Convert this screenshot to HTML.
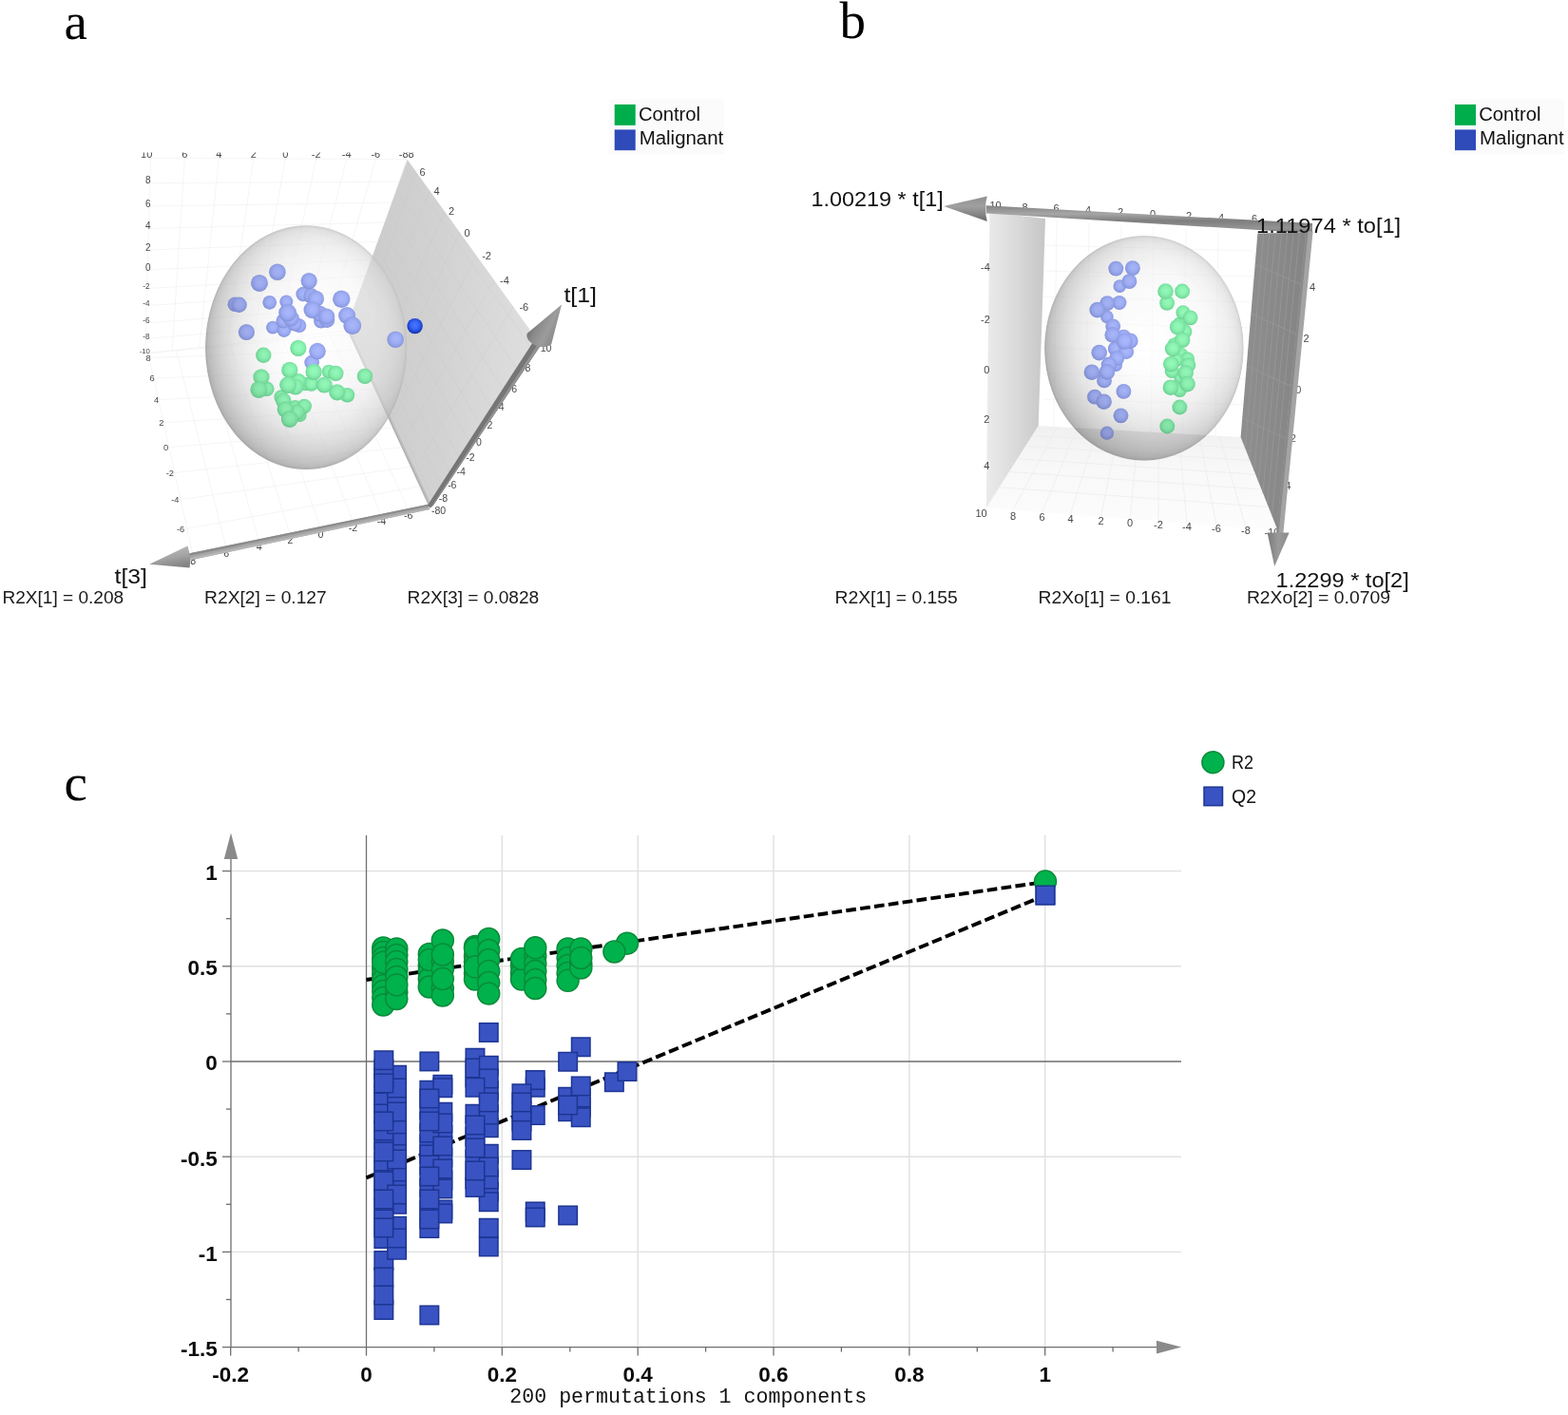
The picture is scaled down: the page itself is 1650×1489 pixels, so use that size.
<!DOCTYPE html>
<html lang="en"><head><meta charset="utf-8"><title>Figure: PCA, OPLS-DA score plots and permutation test</title>
<style>
html,body{margin:0;padding:0;background:#fff;}
body{width:1650px;height:1489px;overflow:hidden;font-family:"Liberation Sans",sans-serif;}
svg{display:block;}
</style></head>
<body>
<svg width="1650" height="1489" viewBox="0 0 1650 1489">
<rect width="1650" height="1489" fill="#fff"/>
<g font-family="'Liberation Serif','DejaVu Serif',serif" font-size="55px" fill="#000">
<text x="67.6" y="40.6">a</text><text x="883.6" y="40.2">b</text><text x="67.6" y="842.2">c</text></g>
<!-- panel a -->

<defs>
<radialGradient id="gBlue" cx="0.52" cy="0.46" r="0.54">
 <stop offset="0" stop-color="#acbaff"/><stop offset="0.5" stop-color="#a3b2f9"/><stop offset="0.82" stop-color="#93a2ea"/><stop offset="1" stop-color="#8392da"/>
</radialGradient>
<radialGradient id="gGreen" cx="0.52" cy="0.46" r="0.54">
 <stop offset="0" stop-color="#97fdbd"/><stop offset="0.5" stop-color="#8df5b3"/><stop offset="0.82" stop-color="#7ae4a3"/><stop offset="1" stop-color="#68d290"/>
</radialGradient>
<radialGradient id="gDark" cx="0.5" cy="0.44" r="0.55">
 <stop offset="0" stop-color="#4a78ff"/><stop offset="0.5" stop-color="#3463f5"/><stop offset="0.85" stop-color="#1c3fc8"/><stop offset="1" stop-color="#13309c"/>
</radialGradient>
<radialGradient id="gSphere" cx="0.5" cy="0.5" r="0.5">
 <stop offset="0" stop-color="#ffffff" stop-opacity="0.5"/>
 <stop offset="0.5" stop-color="#ffffff" stop-opacity="0.5"/>
 <stop offset="0.69" stop-color="#fafafa" stop-opacity="0.55"/>
 <stop offset="0.84" stop-color="#ececec" stop-opacity="0.58"/>
 <stop offset="0.92" stop-color="#e0e0e0" stop-opacity="0.6"/>
 <stop offset="0.97" stop-color="#d4d4d4" stop-opacity="0.65"/>
 <stop offset="0.992" stop-color="#c2c2c2" stop-opacity="0.75"/>
 <stop offset="1" stop-color="#c2c2c2" stop-opacity="0"/>
</radialGradient>
<linearGradient id="gSphereSh" x1="0.85" y1="0.15" x2="0.15" y2="0.85">
 <stop offset="0" stop-color="#000" stop-opacity="0"/>
 <stop offset="0.15" stop-color="#000" stop-opacity="0.02"/>
 <stop offset="0.5" stop-color="#000" stop-opacity="0.10"/>
 <stop offset="0.7" stop-color="#000" stop-opacity="0.15"/>
 <stop offset="0.857" stop-color="#000" stop-opacity="0.19"/>
 <stop offset="1" stop-color="#000" stop-opacity="0.21"/>
</linearGradient>
<radialGradient id="gRim" cx="0.5" cy="0.5" r="0.5">
 <stop offset="0" stop-color="#fff" stop-opacity="0"/>
 <stop offset="0.2" stop-color="#fff" stop-opacity="0.05"/>
 <stop offset="0.4" stop-color="#fff" stop-opacity="0.2"/>
 <stop offset="0.55" stop-color="#fff" stop-opacity="0.36"/>
 <stop offset="0.667" stop-color="#fff" stop-opacity="0.5"/>
 <stop offset="0.78" stop-color="#fff" stop-opacity="0.66"/>
 <stop offset="0.9" stop-color="#fff" stop-opacity="0.85"/>
 <stop offset="1" stop-color="#fff" stop-opacity="1"/>
</radialGradient>
<mask id="mRimA" maskUnits="userSpaceOnUse" x="200" y="220" width="250" height="290"><ellipse cx="322.1" cy="365.7" rx="106.0" ry="128.4" fill="url(#gRim)"/></mask>
<mask id="mRimB" maskUnits="userSpaceOnUse" x="1080" y="230" width="250" height="270"><ellipse cx="1203.8" cy="366.4" rx="104.6" ry="118.2" fill="url(#gRim)"/></mask>
<linearGradient id="gPlaneA" x1="365" y1="345" x2="558" y2="348" gradientUnits="userSpaceOnUse">
 <stop offset="0" stop-color="#cacaca"/><stop offset="0.5" stop-color="#d2d2d2"/><stop offset="1" stop-color="#dedede"/>
</linearGradient>
<linearGradient id="gCylA1" x1="0" y1="0" x2="1" y2="0.6" gradientUnits="objectBoundingBox">
 <stop offset="0" stop-color="#7c7c7c"/><stop offset="1" stop-color="#a8a8a8"/>
</linearGradient>
<linearGradient id="gCone3" x1="180" y1="576" x2="184" y2="597" gradientUnits="userSpaceOnUse">
 <stop offset="0" stop-color="#b9b9b9"/><stop offset="0.45" stop-color="#a6a6a6"/><stop offset="1" stop-color="#838383"/>
</linearGradient>
<linearGradient id="gCone1" x1="558" y1="342" x2="586" y2="356" gradientUnits="userSpaceOnUse">
 <stop offset="0" stop-color="#6f6f6f"/><stop offset="0.25" stop-color="#8a8a8a"/><stop offset="0.6" stop-color="#9c9c9c"/><stop offset="1" stop-color="#858585"/>
</linearGradient>
<filter id="soft" x="-5%" y="-5%" width="110%" height="110%"><feGaussianBlur stdDeviation="0.5"/></filter>
<filter id="softB" x="-5%" y="-5%" width="110%" height="110%"><feGaussianBlur stdDeviation="0.75"/></filter>
<filter id="soft3" x="-5%" y="-5%" width="110%" height="110%"><feGaussianBlur stdDeviation="0.35"/></filter>
<filter id="soft2" x="-5%" y="-5%" width="110%" height="110%"><feGaussianBlur stdDeviation="0.45"/></filter>
</defs>

<g filter="url(#soft)">
<g stroke="#f1f1f1" stroke-width="0.7" fill="none"><line x1="158.7" y1="166.2" x2="152.5" y2="372.0"/><line x1="194.4" y1="166.4" x2="181.1" y2="369.2"/><line x1="230.3" y1="166.6" x2="209.8" y2="366.5"/><line x1="266.7" y1="166.8" x2="238.9" y2="363.8"/><line x1="300.3" y1="166.9" x2="265.8" y2="361.0"/><line x1="332.7" y1="167.1" x2="291.7" y2="358.2"/><line x1="364.7" y1="167.3" x2="317.3" y2="355.5"/><line x1="395.3" y1="167.5" x2="341.8" y2="352.8"/><line x1="427.7" y1="167.7" x2="367.7" y2="350.0"/><line x1="158.7" y1="166.2" x2="427.7" y2="167.7"/><line x1="157.9" y1="192.6" x2="420.0" y2="191.3"/><line x1="157.2" y1="217.0" x2="412.9" y2="213.1"/><line x1="156.5" y1="240.5" x2="406.0" y2="234.1"/><line x1="155.8" y1="263.0" x2="399.5" y2="254.2"/><line x1="155.2" y1="284.0" x2="393.4" y2="272.9"/><line x1="154.6" y1="303.5" x2="387.7" y2="290.3"/><line x1="154.0" y1="321.6" x2="382.4" y2="306.5"/><line x1="153.5" y1="340.0" x2="377.0" y2="322.9"/><line x1="153.0" y1="356.5" x2="372.2" y2="337.7"/><line x1="152.5" y1="372.0" x2="367.7" y2="351.5"/><line x1="152.5" y1="372.0" x2="365.0" y2="348.0"/><line x1="156.5" y1="376.5" x2="374.7" y2="368.4"/><line x1="160.3" y1="398.2" x2="384.3" y2="388.9"/><line x1="164.8" y1="420.7" x2="394.0" y2="409.3"/><line x1="170.0" y1="445.0" x2="403.7" y2="429.8"/><line x1="174.8" y1="471.0" x2="413.3" y2="450.2"/><line x1="179.2" y1="498.0" x2="423.0" y2="470.7"/><line x1="184.6" y1="526.4" x2="432.7" y2="491.1"/><line x1="190.4" y1="557.4" x2="442.3" y2="511.6"/><line x1="198.9" y1="584.0" x2="452.0" y2="532.0"/><line x1="203.1" y1="584.5" x2="155.9" y2="371.6"/><line x1="238.2" y1="577.0" x2="185.4" y2="368.3"/><line x1="272.6" y1="570.0" x2="214.3" y2="365.0"/><line x1="305.5" y1="563.0" x2="242.0" y2="361.9"/><line x1="337.5" y1="556.0" x2="268.8" y2="358.9"/><line x1="371.5" y1="549.0" x2="297.4" y2="355.6"/><line x1="401.5" y1="543.0" x2="322.6" y2="352.8"/><line x1="429.7" y1="537.0" x2="346.3" y2="350.1"/></g>
<polygon points="428.7,168 563.7,355.5 450.5,532 364.6,344.6" fill="url(#gPlaneA)"/>
<g stroke="#c4c4c4" stroke-width="0.8" fill="none" opacity="0.35"><line x1="438.1" y1="181.1" x2="372.1" y2="360.9"/><line x1="452.2" y1="200.6" x2="380.7" y2="379.7"/><line x1="467.9" y1="222.4" x2="390.2" y2="400.5"/><line x1="483.9" y1="244.7" x2="400.0" y2="421.9"/><line x1="501.2" y1="268.7" x2="410.6" y2="445.0"/><line x1="519.8" y1="294.6" x2="422.0" y2="469.8"/><line x1="540.1" y1="322.7" x2="434.4" y2="496.8"/><line x1="558.0" y1="364.3" x2="425.5" y2="176.8"/><line x1="543.3" y1="387.3" x2="417.2" y2="199.8"/><line x1="529.2" y1="409.3" x2="409.1" y2="221.9"/><line x1="516.8" y1="428.6" x2="402.2" y2="241.1"/><line x1="505.1" y1="446.9" x2="395.5" y2="259.5"/><line x1="493.6" y1="464.8" x2="389.0" y2="277.3"/><line x1="483.1" y1="481.2" x2="383.1" y2="293.7"/><line x1="473.5" y1="496.2" x2="377.6" y2="308.8"/><line x1="464.4" y1="510.3" x2="372.5" y2="322.9"/><line x1="455.4" y1="524.4" x2="367.4" y2="337.0"/></g>
<polygon points="364.6,344.6 367.6,345 453.6,530 452,532" fill="#bdbdbd" opacity="0.9"/>
<line x1="364.6" y1="344.6" x2="452" y2="532" stroke="#a9a9a9" stroke-width="1"/>
<ellipse cx="322.1" cy="365.7" rx="106.6" ry="129" fill="url(#gSphere)"/>
<g filter="url(#softB)"><circle cx="301.3" cy="317.4" r="6.95" fill="url(#gBlue)"/><circle cx="287.0" cy="344.6" r="6.95" fill="url(#gBlue)"/><circle cx="283.7" cy="318.3" r="7.36" fill="url(#gBlue)"/><circle cx="314.9" cy="342.7" r="7.36" fill="url(#gBlue)"/><circle cx="298.9" cy="347.6" r="7.36" fill="url(#gBlue)"/><circle cx="346.1" cy="391.0" r="7.36" fill="url(#gGreen)"/><circle cx="321.7" cy="404.0" r="7.36" fill="url(#gGreen)"/><circle cx="295.8" cy="417.7" r="7.36" fill="url(#gGreen)"/><circle cx="310.6" cy="428.4" r="7.36" fill="url(#gGreen)"/><circle cx="315.3" cy="436.7" r="7.36" fill="url(#gGreen)"/><circle cx="319.2" cy="309.6" r="7.77" fill="url(#gBlue)"/><circle cx="247.3" cy="320.3" r="7.77" fill="url(#gBlue)"/><circle cx="337.9" cy="337.8" r="7.77" fill="url(#gBlue)"/><circle cx="298.3" cy="337.8" r="7.77" fill="url(#gBlue)"/><circle cx="310.0" cy="340.7" r="7.77" fill="url(#gBlue)"/><circle cx="328.1" cy="381.6" r="7.77" fill="url(#gBlue)"/><circle cx="280.8" cy="409.3" r="7.77" fill="url(#gGreen)"/><circle cx="327.6" cy="404.0" r="7.77" fill="url(#gGreen)"/><circle cx="365.5" cy="415.7" r="7.77" fill="url(#gGreen)"/><circle cx="320.2" cy="427.4" r="7.77" fill="url(#gGreen)"/><circle cx="327.6" cy="311.5" r="8.18" fill="url(#gBlue)"/><circle cx="251.6" cy="320.7" r="8.18" fill="url(#gBlue)"/><circle cx="344.1" cy="336.8" r="8.18" fill="url(#gBlue)"/><circle cx="277.3" cy="373.8" r="8.18" fill="url(#gGreen)"/><circle cx="353.3" cy="392.9" r="8.18" fill="url(#gGreen)"/><circle cx="384.0" cy="395.9" r="8.18" fill="url(#gGreen)"/><circle cx="313.9" cy="401.1" r="8.18" fill="url(#gGreen)"/><circle cx="298.3" cy="421.6" r="8.18" fill="url(#gGreen)"/><circle cx="312.6" cy="433.8" r="8.18" fill="url(#gGreen)"/><circle cx="325.2" cy="295.6" r="8.59" fill="url(#gBlue)"/><circle cx="332.4" cy="314.4" r="8.59" fill="url(#gBlue)"/><circle cx="336.3" cy="330.0" r="8.59" fill="url(#gBlue)"/><circle cx="343.7" cy="333.0" r="8.59" fill="url(#gBlue)"/><circle cx="306.1" cy="334.9" r="8.59" fill="url(#gBlue)"/><circle cx="259.4" cy="349.5" r="8.59" fill="url(#gBlue)"/><circle cx="313.9" cy="366.4" r="8.59" fill="url(#gGreen)"/><circle cx="304.8" cy="389.4" r="8.59" fill="url(#gGreen)"/><circle cx="330.1" cy="391.4" r="8.59" fill="url(#gGreen)"/><circle cx="275.0" cy="396.8" r="8.59" fill="url(#gGreen)"/><circle cx="311.0" cy="407.0" r="8.59" fill="url(#gGreen)"/><circle cx="341.2" cy="405.0" r="8.59" fill="url(#gGreen)"/><circle cx="354.8" cy="412.8" r="8.59" fill="url(#gGreen)"/><circle cx="300.3" cy="430.9" r="8.59" fill="url(#gGreen)"/><circle cx="291.9" cy="286.2" r="8.79" fill="url(#gBlue)"/><circle cx="416.2" cy="357.3" r="8.79" fill="url(#gBlue)"/><circle cx="334.0" cy="369.6" r="8.79" fill="url(#gBlue)"/><circle cx="273.0" cy="297.9" r="9.00" fill="url(#gBlue)"/><circle cx="328.5" cy="326.1" r="9.00" fill="url(#gBlue)"/><circle cx="365.1" cy="332.0" r="9.00" fill="url(#gBlue)"/><circle cx="272.4" cy="409.9" r="9.00" fill="url(#gGreen)"/><circle cx="303.2" cy="405.0" r="9.00" fill="url(#gGreen)"/><circle cx="304.8" cy="441.0" r="9.00" fill="url(#gGreen)"/><circle cx="359.3" cy="314.8" r="9.20" fill="url(#gBlue)"/><circle cx="370.8" cy="342.7" r="9.41" fill="url(#gBlue)"/><circle cx="302.6" cy="329.1" r="9.41" fill="url(#gBlue)"/></g>
<ellipse cx="322.1" cy="365.7" rx="106.0" ry="128.4" fill="url(#gSphereSh)" mask="url(#mRimA)"/>
<circle cx="436.6" cy="343.1" r="8.2" fill="url(#gDark)"/>
</g>
<defs><clipPath id="clipTopA"><rect x="140" y="160.6" width="300" height="8"/></clipPath></defs>
<g clip-path="url(#clipTopA)" font-family="'Liberation Sans',sans-serif" fill="#484848" filter="url(#soft2)"><text x="154.2" y="166.3" font-size="11px" text-anchor="middle">10</text><text x="194.4" y="166.3" font-size="11px" text-anchor="middle">6</text><text x="230.3" y="166.3" font-size="11px" text-anchor="middle">4</text><text x="266.7" y="166.3" font-size="11px" text-anchor="middle">2</text><text x="300.3" y="166.3" font-size="11px" text-anchor="middle">0</text><text x="332.7" y="166.3" font-size="11px" text-anchor="middle">-2</text><text x="364.7" y="166.3" font-size="11px" text-anchor="middle">-4</text><text x="395.3" y="166.3" font-size="11px" text-anchor="middle">-6</text><text x="427.7" y="166.3" font-size="11px" text-anchor="middle">-88</text></g>
<g font-family="'Liberation Sans',sans-serif" fill="#484848" filter="url(#soft2)"><text x="155.8" y="192.6" font-size="10px" text-anchor="middle">8</text><text x="155.8" y="217.6" font-size="10px" text-anchor="middle">6</text><text x="155.8" y="241.1" font-size="10px" text-anchor="middle">4</text><text x="155.8" y="263.6" font-size="10px" text-anchor="middle">2</text><text x="155.8" y="284.6" font-size="10px" text-anchor="middle">0</text><text x="154.0" y="303.5" font-size="8.2px" text-anchor="middle">-2</text><text x="154.0" y="321.6" font-size="8.2px" text-anchor="middle">-4</text><text x="154.0" y="340.0" font-size="8.2px" text-anchor="middle">-6</text><text x="154.0" y="356.5" font-size="8.2px" text-anchor="middle">-8</text><text x="152.3" y="371.5" font-size="7.8px" text-anchor="middle">-10</text><text x="156.2" y="379.9" font-size="9.3px" text-anchor="middle">8</text><text x="160.0" y="401.3" font-size="9.3px" text-anchor="middle">6</text><text x="164.5" y="423.8" font-size="9.3px" text-anchor="middle">4</text><text x="169.8" y="448.1" font-size="9.3px" text-anchor="middle">2</text><text x="174.6" y="473.9" font-size="9.3px" text-anchor="middle">0</text><text x="178.9" y="500.9" font-size="9.3px" text-anchor="middle">-2</text><text x="184.3" y="529.3" font-size="9.3px" text-anchor="middle">-4</text><text x="190.1" y="560.3" font-size="9.3px" text-anchor="middle">-6</text><text x="203.1" y="594.0" font-size="10.6px" text-anchor="middle">8</text><text x="238.2" y="586.4" font-size="10.6px" text-anchor="middle">6</text><text x="272.6" y="578.8" font-size="10.6px" text-anchor="middle">4</text><text x="305.5" y="572.4" font-size="10.6px" text-anchor="middle">2</text><text x="337.5" y="565.7" font-size="10.6px" text-anchor="middle">0</text><text x="371.5" y="559.3" font-size="10.6px" text-anchor="middle">-2</text><text x="401.5" y="552.2" font-size="10.6px" text-anchor="middle">-4</text><text x="429.7" y="546.4" font-size="10.6px" text-anchor="middle">-6</text><text x="444.6" y="185.1" font-size="11px" text-anchor="middle">6</text><text x="459.5" y="204.7" font-size="11px" text-anchor="middle">4</text><text x="475.0" y="226.4" font-size="11px" text-anchor="middle">2</text><text x="491.5" y="248.7" font-size="11px" text-anchor="middle">0</text><text x="512.1" y="272.6" font-size="11px" text-anchor="middle">-2</text><text x="530.9" y="298.6" font-size="11px" text-anchor="middle">-4</text><text x="551.3" y="326.7" font-size="11px" text-anchor="middle">-6</text><text x="574.5" y="369.6" font-size="10.5px" text-anchor="middle">10</text><text x="555.3" y="391.4" font-size="10.5px" text-anchor="middle">8</text><text x="541.2" y="413.2" font-size="10.5px" text-anchor="middle">6</text><text x="527.7" y="432.4" font-size="10.5px" text-anchor="middle">4</text><text x="515.3" y="450.8" font-size="10.5px" text-anchor="middle">2</text><text x="504.0" y="468.6" font-size="10.5px" text-anchor="middle">0</text><text x="495.0" y="485.0" font-size="10.5px" text-anchor="middle">-2</text><text x="485.2" y="500.0" font-size="10.5px" text-anchor="middle">-4</text><text x="475.8" y="514.1" font-size="10.5px" text-anchor="middle">-6</text><text x="466.4" y="528.2" font-size="10.5px" text-anchor="middle">-8</text><text x="461.5" y="541.0" font-size="10.5px" text-anchor="middle">-80</text></g>
<g filter="url(#soft3)"><polygon points="198.2,582.5 450.6,530.8 452.4,536.0 198.6,589.7" fill="#a6a6a6"/><polygon points="198.2,582.4 450.6,530.8 451.2,532.6 198.3,585.0" fill="#8b8b8b"/><polygon points="198.5,587.4 451.8,534.5 452.4,536.0 198.6,589.7" fill="#b6b6b6"/><path d="M157.2,593.8 L197.4,574.6 Q201.4,586 199.6,597.4 Z" fill="url(#gCone3)"/><polygon points="449.9,531.7 562.1,358 572.6,358 456.0,531.7 453,534.5" fill="#767676"/><polygon points="453.8,533.2 568.6,358 572.6,358 456.0,531.7" fill="#929292"/><path d="M591,320.4 L554.6,351 C552.8,357 560,363.6 568.5,364.9 C573,365.4 578,364.4 580.2,362.2 Z" fill="url(#gCone1)"/></g>
<g font-family="'Liberation Sans',sans-serif" font-size="22px" fill="#111"><text x="593.4" y="318.2" textLength="34.6" lengthAdjust="spacingAndGlyphs">t[1]</text><text x="120.6" y="613.6" textLength="34.4" lengthAdjust="spacingAndGlyphs">t[3]</text></g>
<g font-family="'Liberation Sans',sans-serif" font-size="18.8px" fill="#1a1a1a"><text x="2.4" y="635" textLength="127.8" lengthAdjust="spacingAndGlyphs">R2X[1] = 0.208</text><text x="215.1" y="635" textLength="128.6" lengthAdjust="spacingAndGlyphs">R2X[2] = 0.127</text><text x="428.6" y="635" textLength="138.6" lengthAdjust="spacingAndGlyphs">R2X[3] = 0.0828</text></g>
<rect x="641.3" y="104.4" width="120.7" height="57.8" fill="#fbfbfb"/><rect x="646.7" y="109.9" width="22" height="22" fill="#00ad4b"/><rect x="646.7" y="136.4" width="22" height="21.8" fill="#2f4ab9"/><g font-family="'Liberation Sans',sans-serif" font-size="19.6px" fill="#111"><text x="671.9" y="127.3" textLength="65.2" lengthAdjust="spacingAndGlyphs">Control</text><text x="672.7" y="151.6" textLength="88.6" lengthAdjust="spacingAndGlyphs">Malignant</text></g>
<!-- panel b -->

<defs>
<radialGradient id="gSphereB" cx="0.5" cy="0.5" r="0.5">
 <stop offset="0" stop-color="#ffffff" stop-opacity="0.5"/>
 <stop offset="0.5" stop-color="#ffffff" stop-opacity="0.5"/>
 <stop offset="0.69" stop-color="#fafafa" stop-opacity="0.55"/>
 <stop offset="0.84" stop-color="#ececec" stop-opacity="0.58"/>
 <stop offset="0.92" stop-color="#e0e0e0" stop-opacity="0.6"/>
 <stop offset="0.97" stop-color="#d4d4d4" stop-opacity="0.65"/>
 <stop offset="0.992" stop-color="#c2c2c2" stop-opacity="0.75"/>
 <stop offset="1" stop-color="#c2c2c2" stop-opacity="0"/>
</radialGradient>
<linearGradient id="gLeftWall" x1="1038" y1="0" x2="1100" y2="0" gradientUnits="userSpaceOnUse">
 <stop offset="0" stop-color="#ebebeb"/><stop offset="0.5" stop-color="#dadada"/><stop offset="1" stop-color="#c6c6c6"/>
</linearGradient>
<linearGradient id="gRightWall" x1="1310" y1="0" x2="1370" y2="0" gradientUnits="userSpaceOnUse">
 <stop offset="0" stop-color="#8e8e8e"/><stop offset="1" stop-color="#858585"/>
</linearGradient>
<linearGradient id="gFloorB" x1="0" y1="448" x2="0" y2="560" gradientUnits="userSpaceOnUse">
 <stop offset="0" stop-color="#f0f0f0"/><stop offset="0.4" stop-color="#f8f8f8"/><stop offset="1" stop-color="#fdfdfd"/>
</linearGradient>
<linearGradient id="gCylTop" x1="0" y1="0" x2="0" y2="1">
 <stop offset="0" stop-color="#838383"/><stop offset="0.3" stop-color="#a6a6a6"/><stop offset="0.55" stop-color="#7e7e7e"/><stop offset="0.8" stop-color="#939393"/><stop offset="1" stop-color="#7a7a7a"/>
</linearGradient>
<linearGradient id="gConeL" x1="0" y1="0" x2="0" y2="1">
 <stop offset="0" stop-color="#8f8f8f"/><stop offset="0.4" stop-color="#a0a0a0"/><stop offset="0.75" stop-color="#828282"/><stop offset="1" stop-color="#686868"/>
</linearGradient>
<linearGradient id="gConeD" x1="0" y1="0" x2="1" y2="0">
 <stop offset="0" stop-color="#7a7a7a"/><stop offset="0.5" stop-color="#9a9a9a"/><stop offset="1" stop-color="#8a8a8a"/>
</linearGradient>
<clipPath id="clipSphB"><ellipse cx="1203.8" cy="366.4" rx="104.8" ry="118.4"/></clipPath>
<clipPath id="clipFloorB"><polygon points="1037.8,534.4 1092.7,448 1306,460 1343.5,558"/></clipPath>
</defs>

<g filter="url(#soft)">
<g stroke="#f1f1f1" stroke-width="0.7" fill="none"><line x1="1112" y1="231.8" x2="1109" y2="449.7"/><line x1="1146" y1="234.2" x2="1143" y2="451.5"/><line x1="1180" y1="236.6" x2="1177" y2="453.4"/><line x1="1214" y1="239.0" x2="1211" y2="455.3"/><line x1="1248" y1="241.4" x2="1245" y2="457.1"/><line x1="1282" y1="243.7" x2="1279" y2="459.0"/><line x1="1098" y1="258" x2="1318" y2="264"/><line x1="1098" y1="285" x2="1318" y2="291"/><line x1="1098" y1="312" x2="1318" y2="318"/><line x1="1098" y1="339" x2="1318" y2="345"/><line x1="1098" y1="366" x2="1318" y2="372"/><line x1="1098" y1="393" x2="1318" y2="399"/><line x1="1098" y1="420" x2="1318" y2="426"/></g>
<polygon points="1037.8,534.4 1092.7,448 1306,460 1343.5,558" fill="url(#gFloorB)"/>
<g stroke="#ebebeb" stroke-width="0.7" fill="none" clip-path="url(#clipFloorB)"><line x1="1066" y1="536.6" x2="1112.4" y2="449.1"/><line x1="1096.5" y1="538.9" x2="1133.7" y2="450.3"/><line x1="1126.5" y1="541.2" x2="1154.6" y2="451.5"/><line x1="1158.5" y1="543.7" x2="1176.9" y2="452.7"/><line x1="1189" y1="546.1" x2="1198.2" y2="453.9"/><line x1="1219" y1="548.4" x2="1219.1" y2="455.1"/><line x1="1249" y1="550.7" x2="1240.1" y2="456.3"/><line x1="1280" y1="553.1" x2="1261.7" y2="457.5"/><line x1="1311" y1="555.5" x2="1283.3" y2="458.7"/><line x1="1086.1" y1="458.4" x2="1310.5" y2="471.8"/><line x1="1079.0" y1="469.6" x2="1315.4" y2="484.5"/><line x1="1070.7" y1="482.6" x2="1321.0" y2="499.2"/><line x1="1062.0" y1="496.4" x2="1327.0" y2="514.9"/><line x1="1051.5" y1="512.8" x2="1334.1" y2="533.5"/></g>
<polygon points="1041.4,223.5 1100,230 1092.7,448 1037.8,534.4" fill="url(#gLeftWall)"/>
<polygon points="1323.4,245.6 1375.8,244.7 1344.5,558 1305.6,460" fill="url(#gRightWall)"/>
<g stroke="#9c9c9c" stroke-width="0.8" fill="none" opacity="0.8"><line x1="1329.7" y1="245" x2="1310.3" y2="471.8"/><line x1="1336.0" y1="245" x2="1314.9" y2="483.5"/><line x1="1342.3" y1="245" x2="1319.6" y2="495.3"/><line x1="1348.6" y1="245" x2="1324.3" y2="507.0"/><line x1="1354.8" y1="245" x2="1328.9" y2="518.8"/><line x1="1361.1" y1="245" x2="1333.6" y2="530.6"/><line x1="1367.4" y1="245" x2="1338.3" y2="542.3"/><line x1="1320.7" y1="278" x2="1370.3" y2="300"/><line x1="1316.3" y1="330" x2="1365.1" y2="352"/><line x1="1311.8" y1="385" x2="1359.6" y2="407"/><line x1="1307.2" y1="440" x2="1354.1" y2="462"/></g>
<ellipse cx="1203.8" cy="366.4" rx="105.2" ry="118.8" fill="url(#gSphereB)"/>
<g clip-path="url(#clipSphB)"><polygon points="1092.7,448 1306,460 1343.5,558 1037.8,534.4" fill="#000" opacity="0.05"/></g>
<g filter="url(#softB)"><circle cx="1178.3" cy="301.1" r="6.79" fill="url(#gBlue)"/><circle cx="1164.9" cy="333.4" r="6.79" fill="url(#gBlue)"/><circle cx="1174.3" cy="384.1" r="6.79" fill="url(#gBlue)"/><circle cx="1164.9" cy="455.7" r="7.17" fill="url(#gBlue)"/><circle cx="1241.4" cy="340.6" r="7.17" fill="url(#gGreen)"/><circle cx="1235.9" cy="362.4" r="7.17" fill="url(#gGreen)"/><circle cx="1243.2" cy="373.2" r="7.17" fill="url(#gGreen)"/><circle cx="1242.3" cy="396.8" r="7.17" fill="url(#gGreen)"/><circle cx="1177.9" cy="318.5" r="7.54" fill="url(#gBlue)"/><circle cx="1182.4" cy="354.2" r="7.54" fill="url(#gBlue)"/><circle cx="1173.4" cy="366.9" r="7.54" fill="url(#gBlue)"/><circle cx="1245.0" cy="328.8" r="7.54" fill="url(#gGreen)"/><circle cx="1246.8" cy="348.8" r="7.54" fill="url(#gGreen)"/><circle cx="1249.5" cy="377.8" r="7.54" fill="url(#gGreen)"/><circle cx="1237.8" cy="378.7" r="7.54" fill="url(#gGreen)"/><circle cx="1233.2" cy="390.5" r="7.54" fill="url(#gGreen)"/><circle cx="1241.4" cy="410.4" r="7.54" fill="url(#gGreen)"/><circle cx="1174.3" cy="282.6" r="7.92" fill="url(#gBlue)"/><circle cx="1191.9" cy="282.2" r="7.92" fill="url(#gBlue)"/><circle cx="1188.4" cy="296.2" r="7.92" fill="url(#gBlue)"/><circle cx="1165.2" cy="319.2" r="7.92" fill="url(#gBlue)"/><circle cx="1171.2" cy="343.3" r="7.92" fill="url(#gBlue)"/><circle cx="1185.2" cy="370.0" r="7.92" fill="url(#gBlue)"/><circle cx="1175.2" cy="377.2" r="7.92" fill="url(#gBlue)"/><circle cx="1162.0" cy="400.4" r="7.92" fill="url(#gBlue)"/><circle cx="1182.4" cy="411.9" r="7.92" fill="url(#gBlue)"/><circle cx="1152.0" cy="417.7" r="7.92" fill="url(#gBlue)"/><circle cx="1179.5" cy="437.3" r="7.92" fill="url(#gBlue)"/><circle cx="1244.1" cy="306.5" r="7.92" fill="url(#gGreen)"/><circle cx="1228.1" cy="318.8" r="7.92" fill="url(#gGreen)"/><circle cx="1252.6" cy="334.3" r="7.92" fill="url(#gGreen)"/><circle cx="1250.4" cy="384.1" r="7.92" fill="url(#gGreen)"/><circle cx="1241.4" cy="428.5" r="7.92" fill="url(#gGreen)"/><circle cx="1228.3" cy="448.5" r="7.92" fill="url(#gGreen)"/><circle cx="1154.7" cy="326.1" r="8.30" fill="url(#gBlue)"/><circle cx="1170.7" cy="352.4" r="8.30" fill="url(#gBlue)"/><circle cx="1189.3" cy="358.7" r="8.30" fill="url(#gBlue)"/><circle cx="1156.7" cy="371.1" r="8.30" fill="url(#gBlue)"/><circle cx="1167.0" cy="383.8" r="8.30" fill="url(#gBlue)"/><circle cx="1148.9" cy="391.7" r="8.30" fill="url(#gBlue)"/><circle cx="1164.9" cy="391.4" r="8.30" fill="url(#gBlue)"/><circle cx="1161.6" cy="422.7" r="8.30" fill="url(#gBlue)"/><circle cx="1226.5" cy="306.5" r="8.30" fill="url(#gGreen)"/><circle cx="1239.2" cy="344.2" r="8.30" fill="url(#gGreen)"/><circle cx="1244.1" cy="357.8" r="8.30" fill="url(#gGreen)"/><circle cx="1234.1" cy="366.9" r="8.30" fill="url(#gGreen)"/><circle cx="1232.3" cy="383.2" r="8.30" fill="url(#gGreen)"/><circle cx="1247.7" cy="392.3" r="8.30" fill="url(#gGreen)"/><circle cx="1231.9" cy="407.7" r="8.30" fill="url(#gGreen)"/><circle cx="1249.5" cy="404.1" r="8.30" fill="url(#gGreen)"/><circle cx="1183.4" cy="359.1" r="8.67" fill="url(#gBlue)"/></g>
<ellipse cx="1203.8" cy="366.4" rx="104.6" ry="118.2" fill="url(#gSphereSh)" mask="url(#mRimB)"/>
</g><g filter="url(#soft3)">
<g font-family="'Liberation Sans',sans-serif" fill="#555" font-size="11px" text-anchor="middle"><text x="1366.2" y="413.6">0</text><text x="1360.8" y="465">2</text><text x="1355.4" y="514.6">4</text><text x="1338.5" y="564">-10</text></g>
<polygon points="1037.6,216.2 1381,235 1381,245.6 1037.6,224.4" fill="url(#gCylTop)"/>
<path d="M993.2,217 L1038.8,206.4 Q1035.2,219.6 1038.8,233 Z" fill="url(#gConeL)"/>
<polygon points="1374.2,243 1381.6,243.5 1350.4,561 1343.2,561" fill="#a4a4a4"/>
<polygon points="1374.2,243 1376.6,243.2 1345.6,561 1343.2,561" fill="#8a8a8a"/>
<polygon points="1333.6,560.6 1356.6,560.6 1341.2,596" fill="url(#gConeD)"/>
</g>
<g font-family="'Liberation Sans',sans-serif" fill="#484848" filter="url(#soft2)"><text x="1037.0" y="284.7" font-size="11px" text-anchor="middle">-4</text><text x="1037.0" y="339.6" font-size="11px" text-anchor="middle">-2</text><text x="1038.3" y="392.9" font-size="11px" text-anchor="middle">0</text><text x="1038.3" y="444.7" font-size="11px" text-anchor="middle">2</text><text x="1038.3" y="494.2" font-size="11px" text-anchor="middle">4</text><text x="1032.5" y="544.0" font-size="11px" text-anchor="middle">10</text><text x="1066.0" y="546.5" font-size="11px" text-anchor="middle">8</text><text x="1096.5" y="548.0" font-size="11px" text-anchor="middle">6</text><text x="1126.5" y="550.0" font-size="11px" text-anchor="middle">4</text><text x="1158.5" y="552.0" font-size="11px" text-anchor="middle">2</text><text x="1189.0" y="554.0" font-size="11px" text-anchor="middle">0</text><text x="1219.0" y="556.0" font-size="11px" text-anchor="middle">-2</text><text x="1249.0" y="558.0" font-size="11px" text-anchor="middle">-4</text><text x="1280.0" y="560.0" font-size="11px" text-anchor="middle">-6</text><text x="1311.0" y="561.8" font-size="11px" text-anchor="middle">-8</text><text x="1381.0" y="305.5" font-size="11px" text-anchor="middle">4</text><text x="1374.6" y="360.2" font-size="11px" text-anchor="middle">2</text></g>
<defs><clipPath id="clipTopB"><polygon points="1030,200 1400,200 1400,235.5 1030,216.2"/></clipPath></defs>
<g clip-path="url(#clipTopB)" font-family="'Liberation Sans',sans-serif" fill="#484848" filter="url(#soft2)"><text x="1047.5" y="220.0" font-size="11px" text-anchor="middle">10</text><text x="1078.5" y="221.6" font-size="11px" text-anchor="middle">8</text><text x="1111.5" y="223.4" font-size="11px" text-anchor="middle">6</text><text x="1145.0" y="225.2" font-size="11px" text-anchor="middle">4</text><text x="1179.0" y="227.0" font-size="11px" text-anchor="middle">2</text><text x="1213.0" y="228.8" font-size="11px" text-anchor="middle">0</text><text x="1251.0" y="230.8" font-size="11px" text-anchor="middle">2</text><text x="1285.0" y="232.6" font-size="11px" text-anchor="middle">4</text><text x="1320.0" y="234.4" font-size="11px" text-anchor="middle">6</text></g>
<g font-family="'Liberation Sans',sans-serif" font-size="22.5px" fill="#111"><text x="853.6" y="217" textLength="139.1" lengthAdjust="spacingAndGlyphs">1.00219 * t[1]</text><text x="1322.1" y="245" textLength="152.1" lengthAdjust="spacingAndGlyphs">1.11974 * to[1]</text><text x="1342.6" y="617.8" textLength="140.1" lengthAdjust="spacingAndGlyphs">1.2299 * to[2]</text></g>
<g font-family="'Liberation Sans',sans-serif" font-size="18.8px" fill="#1a1a1a"><text x="878.6" y="635" textLength="129.1" lengthAdjust="spacingAndGlyphs">R2X[1] = 0.155</text><text x="1092.6" y="635" textLength="139.8" lengthAdjust="spacingAndGlyphs">R2Xo[1] = 0.161</text><text x="1311.9" y="635" textLength="151.0" lengthAdjust="spacingAndGlyphs">R2Xo[2] = 0.0709</text></g>
<rect x="1525.6" y="104.4" width="120.7" height="57.8" fill="#fbfbfb"/><rect x="1531.0" y="109.9" width="22" height="22" fill="#00ad4b"/><rect x="1531.0" y="136.4" width="22" height="21.8" fill="#2f4ab9"/><g font-family="'Liberation Sans',sans-serif" font-size="19.6px" fill="#111"><text x="1556.2" y="127.3" textLength="65.2" lengthAdjust="spacingAndGlyphs">Control</text><text x="1557.0" y="151.6" textLength="88.6" lengthAdjust="spacingAndGlyphs">Malignant</text></g>
<!-- panel c -->
<g stroke="#e0e0e0" stroke-width="1.4" fill="none"><line x1="528.3" y1="879.0" x2="528.3" y2="1417.6"/><line x1="671.2" y1="879.0" x2="671.2" y2="1417.6"/><line x1="814.0" y1="879.0" x2="814.0" y2="1417.6"/><line x1="956.9" y1="879.0" x2="956.9" y2="1417.6"/><line x1="1099.7" y1="879.0" x2="1099.7" y2="1417.6"/><line x1="243.0" y1="916.6" x2="1243.0" y2="916.6"/><line x1="243.0" y1="1016.8" x2="1243.0" y2="1016.8"/><line x1="243.0" y1="1217.2" x2="1243.0" y2="1217.2"/><line x1="243.0" y1="1317.4" x2="1243.0" y2="1317.4"/></g>
<g stroke="#6e6e6e" stroke-width="1.3"><line x1="385.5" y1="879.0" x2="385.5" y2="1417.6"/><line x1="243.0" y1="1117.0" x2="1243.0" y2="1117.0"/></g>
<g stroke="#6e6e6e" stroke-width="1.3" fill="none"><line x1="243.0" y1="899.0" x2="243.0" y2="1417.6"/><line x1="243.0" y1="1417.6" x2="1223.0" y2="1417.6"/><line x1="234.0" y1="1417.6" x2="243.0" y2="1417.6"/><line x1="238.0" y1="1367.5" x2="243.0" y2="1367.5"/><line x1="234.0" y1="1317.4" x2="243.0" y2="1317.4"/><line x1="238.0" y1="1267.3" x2="243.0" y2="1267.3"/><line x1="234.0" y1="1217.2" x2="243.0" y2="1217.2"/><line x1="238.0" y1="1167.1" x2="243.0" y2="1167.1"/><line x1="234.0" y1="1117.0" x2="243.0" y2="1117.0"/><line x1="238.0" y1="1066.9" x2="243.0" y2="1066.9"/><line x1="234.0" y1="1016.8" x2="243.0" y2="1016.8"/><line x1="238.0" y1="966.7" x2="243.0" y2="966.7"/><line x1="234.0" y1="916.6" x2="243.0" y2="916.6"/><line x1="242.7" y1="1417.6" x2="242.7" y2="1426.6"/><line x1="314.1" y1="1417.6" x2="314.1" y2="1422.6"/><line x1="385.5" y1="1417.6" x2="385.5" y2="1426.6"/><line x1="456.9" y1="1417.6" x2="456.9" y2="1422.6"/><line x1="528.3" y1="1417.6" x2="528.3" y2="1426.6"/><line x1="599.8" y1="1417.6" x2="599.8" y2="1422.6"/><line x1="671.2" y1="1417.6" x2="671.2" y2="1426.6"/><line x1="742.6" y1="1417.6" x2="742.6" y2="1422.6"/><line x1="814.0" y1="1417.6" x2="814.0" y2="1426.6"/><line x1="885.4" y1="1417.6" x2="885.4" y2="1422.6"/><line x1="956.9" y1="1417.6" x2="956.9" y2="1426.6"/><line x1="1028.3" y1="1417.6" x2="1028.3" y2="1422.6"/><line x1="1099.7" y1="1417.6" x2="1099.7" y2="1426.6"/><line x1="1171.1" y1="1417.6" x2="1171.1" y2="1422.6"/></g>
<polygon points="243.0,876.5 235.8,904.0 250.2,904.0" fill="#8a8a8a"/>
<polygon points="1243.2,1417.6 1217.0,1410.8 1217.0,1424.3999999999999" fill="#8a8a8a"/>
<g font-family="'Liberation Sans','DejaVu Sans',sans-serif" font-weight="bold" font-size="22.5px" fill="#0a0a0a"><text x="228.8" y="925.9" text-anchor="end">1</text><text x="228.8" y="1026.1" text-anchor="end">0.5</text><text x="228.8" y="1126.3" text-anchor="end">0</text><text x="228.8" y="1226.5" text-anchor="end">-0.5</text><text x="228.8" y="1326.7" text-anchor="end">-1</text><text x="228.8" y="1426.9" text-anchor="end">-1.5</text><text x="242.7" y="1454.3" text-anchor="middle">-0.2</text><text x="385.5" y="1454.3" text-anchor="middle">0</text><text x="528.3" y="1454.3" text-anchor="middle">0.2</text><text x="671.2" y="1454.3" text-anchor="middle">0.4</text><text x="814.0" y="1454.3" text-anchor="middle">0.6</text><text x="956.9" y="1454.3" text-anchor="middle">0.8</text><text x="1099.7" y="1454.3" text-anchor="middle">1</text></g>
<text x="724.2" y="1476" text-anchor="middle" font-family="'Liberation Mono','DejaVu Sans Mono',monospace" font-size="21.6px" fill="#111">200 permutations 1 components</text>
<g stroke="#000" stroke-width="3.9" stroke-dasharray="10.7 4.3" fill="none"><line x1="385.5" y1="1031" x2="1100" y2="928"/><line x1="385.5" y1="1239.4" x2="1100" y2="942"/></g>
<g fill="#3a53c3" stroke="#1d3592" stroke-width="1.5"><rect x="490.2" y="1124.2" width="19.5" height="19.5"/><rect x="553.5" y="1134.5" width="19.5" height="19.5"/><rect x="394.1" y="1115.2" width="19.5" height="19.5"/><rect x="456.1" y="1263.2" width="19.5" height="19.5"/><rect x="394.1" y="1316.8" width="19.5" height="19.5"/><rect x="442.1" y="1194.2" width="19.5" height="19.5"/><rect x="553.5" y="1163.8" width="19.5" height="19.5"/><rect x="407.8" y="1235.2" width="19.5" height="19.5"/><rect x="504.5" y="1177.0" width="19.5" height="19.5"/><rect x="442.1" y="1263.2" width="19.5" height="19.5"/><rect x="601.5" y="1155.2" width="19.5" height="19.5"/><rect x="407.8" y="1280.5" width="19.5" height="19.5"/><rect x="407.8" y="1198.2" width="19.5" height="19.5"/><rect x="587.9" y="1160.0" width="19.5" height="19.5"/><rect x="553.5" y="1126.8" width="19.5" height="19.5"/><rect x="601.5" y="1166.0" width="19.5" height="19.5"/><rect x="407.8" y="1121.5" width="19.5" height="19.5"/><rect x="490.2" y="1103.5" width="19.5" height="19.5"/><rect x="442.1" y="1205.2" width="19.5" height="19.5"/><rect x="407.8" y="1185.2" width="19.5" height="19.5"/><rect x="504.5" y="1076.7" width="19.5" height="19.5"/><rect x="636.6" y="1129.0" width="19.5" height="19.5"/><rect x="394.1" y="1142.2" width="19.5" height="19.5"/><rect x="587.9" y="1144.5" width="19.5" height="19.5"/><rect x="394.1" y="1150.2" width="19.5" height="19.5"/><rect x="601.5" y="1092.0" width="19.5" height="19.5"/><rect x="442.1" y="1107.2" width="19.5" height="19.5"/><rect x="407.8" y="1148.2" width="19.5" height="19.5"/><rect x="490.2" y="1114.2" width="19.5" height="19.5"/><rect x="504.5" y="1302.2" width="19.5" height="19.5"/><rect x="539.2" y="1141.0" width="19.5" height="19.5"/><rect x="456.1" y="1184.2" width="19.5" height="19.5"/><rect x="587.9" y="1269.2" width="19.5" height="19.5"/><rect x="456.1" y="1160.5" width="19.5" height="19.5"/><rect x="394.1" y="1243.2" width="19.5" height="19.5"/><rect x="601.5" y="1145.2" width="19.5" height="19.5"/><rect x="539.2" y="1170.2" width="19.5" height="19.5"/><rect x="456.1" y="1208.2" width="19.5" height="19.5"/><rect x="553.5" y="1265.2" width="19.5" height="19.5"/><rect x="394.1" y="1190.2" width="19.5" height="19.5"/><rect x="587.9" y="1107.5" width="19.5" height="19.5"/><rect x="504.5" y="1111.5" width="19.5" height="19.5"/><rect x="394.1" y="1293.8" width="19.5" height="19.5"/><rect x="442.1" y="1216.2" width="19.5" height="19.5"/><rect x="407.8" y="1135.2" width="19.5" height="19.5"/><rect x="456.1" y="1131.5" width="19.5" height="19.5"/><rect x="456.1" y="1232.2" width="19.5" height="19.5"/><rect x="490.2" y="1231.2" width="19.5" height="19.5"/><rect x="394.1" y="1222.2" width="19.5" height="19.5"/><rect x="504.5" y="1204.5" width="19.5" height="19.5"/><rect x="504.5" y="1244.2" width="19.5" height="19.5"/><rect x="442.1" y="1240.2" width="19.5" height="19.5"/><rect x="490.2" y="1186.2" width="19.5" height="19.5"/><rect x="442.1" y="1282.8" width="19.5" height="19.5"/><rect x="490.2" y="1162.5" width="19.5" height="19.5"/><rect x="504.5" y="1138.2" width="19.5" height="19.5"/><rect x="394.1" y="1124.2" width="19.5" height="19.5"/><rect x="1090.2" y="932.2" width="19.5" height="19.5"/><rect x="490.2" y="1210.2" width="19.5" height="19.5"/><rect x="407.8" y="1257.5" width="19.5" height="19.5"/><rect x="394.1" y="1262.2" width="19.5" height="19.5"/><rect x="504.5" y="1255.0" width="19.5" height="19.5"/><rect x="442.1" y="1158.2" width="19.5" height="19.5"/><rect x="504.5" y="1231.2" width="19.5" height="19.5"/><rect x="442.1" y="1182.2" width="19.5" height="19.5"/><rect x="407.8" y="1223.2" width="19.5" height="19.5"/><rect x="504.5" y="1125.2" width="19.5" height="19.5"/><rect x="394.1" y="1233.2" width="19.5" height="19.5"/><rect x="490.2" y="1239.7" width="19.5" height="19.5"/><rect x="539.2" y="1160.2" width="19.5" height="19.5"/><rect x="394.1" y="1106.0" width="19.5" height="19.5"/><rect x="394.1" y="1180.2" width="19.5" height="19.5"/><rect x="587.9" y="1153.2" width="19.5" height="19.5"/><rect x="456.1" y="1267.2" width="19.5" height="19.5"/><rect x="407.8" y="1305.5" width="19.5" height="19.5"/><rect x="394.1" y="1334.2" width="19.5" height="19.5"/><rect x="394.1" y="1368.7" width="19.5" height="19.5"/><rect x="407.8" y="1247.2" width="19.5" height="19.5"/><rect x="553.5" y="1271.2" width="19.5" height="19.5"/><rect x="504.5" y="1218.2" width="19.5" height="19.5"/><rect x="394.1" y="1273.2" width="19.5" height="19.5"/><rect x="539.2" y="1210.8" width="19.5" height="19.5"/><rect x="394.1" y="1212.2" width="19.5" height="19.5"/><rect x="407.8" y="1210.2" width="19.5" height="19.5"/><rect x="442.1" y="1137.5" width="19.5" height="19.5"/><rect x="650.2" y="1117.8" width="19.5" height="19.5"/><rect x="456.1" y="1135.0" width="19.5" height="19.5"/><rect x="407.8" y="1173.2" width="19.5" height="19.5"/><rect x="394.1" y="1252.2" width="19.5" height="19.5"/><rect x="394.1" y="1130.2" width="19.5" height="19.5"/><rect x="456.1" y="1172.2" width="19.5" height="19.5"/><rect x="601.5" y="1133.2" width="19.5" height="19.5"/><rect x="456.1" y="1241.2" width="19.5" height="19.5"/><rect x="394.1" y="1162.2" width="19.5" height="19.5"/><rect x="539.2" y="1150.2" width="19.5" height="19.5"/><rect x="394.1" y="1353.2" width="19.5" height="19.5"/><rect x="407.8" y="1160.2" width="19.5" height="19.5"/><rect x="394.1" y="1170.2" width="19.5" height="19.5"/><rect x="456.1" y="1196.2" width="19.5" height="19.5"/><rect x="504.5" y="1282.5" width="19.5" height="19.5"/><rect x="442.1" y="1273.2" width="19.5" height="19.5"/><rect x="456.1" y="1220.2" width="19.5" height="19.5"/><rect x="394.1" y="1202.2" width="19.5" height="19.5"/><rect x="539.2" y="1179.7" width="19.5" height="19.5"/><rect x="504.5" y="1163.2" width="19.5" height="19.5"/><rect x="442.1" y="1228.2" width="19.5" height="19.5"/><rect x="490.2" y="1174.2" width="19.5" height="19.5"/><rect x="490.2" y="1134.5" width="19.5" height="19.5"/><rect x="442.1" y="1374.2" width="19.5" height="19.5"/><rect x="442.1" y="1252.2" width="19.5" height="19.5"/><rect x="407.8" y="1293.2" width="19.5" height="19.5"/><rect x="490.2" y="1198.2" width="19.5" height="19.5"/><rect x="504.5" y="1150.2" width="19.5" height="19.5"/><rect x="442.1" y="1146.2" width="19.5" height="19.5"/><rect x="490.2" y="1222.2" width="19.5" height="19.5"/><rect x="394.1" y="1282.2" width="19.5" height="19.5"/><rect x="442.1" y="1170.2" width="19.5" height="19.5"/></g>
<g fill="#00b24b" stroke="#0a8a3a" stroke-width="1.5"><circle cx="403.3" cy="997.5" r="11.5"/><circle cx="403.3" cy="1002" r="11.5"/><circle cx="403.3" cy="1008" r="11.5"/><circle cx="403.3" cy="1019" r="11.5"/><circle cx="403.3" cy="1025" r="11.5"/><circle cx="403.3" cy="1031" r="11.5"/><circle cx="403.3" cy="1037" r="11.5"/><circle cx="403.3" cy="1043" r="11.5"/><circle cx="403.3" cy="1050" r="11.5"/><circle cx="403.3" cy="1057.5" r="11.5"/><circle cx="403.3" cy="1012.7" r="11.5"/><circle cx="417.3" cy="998.5" r="11.5"/><circle cx="417.3" cy="1005" r="11.5"/><circle cx="417.3" cy="1012" r="11.5"/><circle cx="417.3" cy="1020" r="11.5"/><circle cx="417.3" cy="1028" r="11.5"/><circle cx="417.3" cy="1044" r="11.5"/><circle cx="417.3" cy="1051" r="11.5"/><circle cx="417.3" cy="1036.4" r="11.5"/><circle cx="451.8" cy="1004" r="11.5"/><circle cx="451.8" cy="1016" r="11.5"/><circle cx="451.8" cy="1022" r="11.5"/><circle cx="451.8" cy="1030" r="11.5"/><circle cx="451.8" cy="1038.5" r="11.5"/><circle cx="451.8" cy="1010" r="11.5"/><circle cx="465.8" cy="989.5" r="11.5"/><circle cx="465.8" cy="1012" r="11.5"/><circle cx="465.8" cy="1020" r="11.5"/><circle cx="465.8" cy="1040" r="11.5"/><circle cx="465.8" cy="1047.5" r="11.5"/><circle cx="465.8" cy="1004.5" r="11.5"/><circle cx="465.8" cy="1030" r="11.5"/><circle cx="500.0" cy="996" r="11.5"/><circle cx="500.0" cy="1006" r="11.5"/><circle cx="500.0" cy="1012" r="11.5"/><circle cx="500.0" cy="1024" r="11.5"/><circle cx="500.0" cy="1030.5" r="11.5"/><circle cx="500.0" cy="998" r="11.5"/><circle cx="500.0" cy="1017.3" r="11.5"/><circle cx="514.2" cy="988" r="11.5"/><circle cx="514.2" cy="1000" r="11.5"/><circle cx="514.2" cy="1010" r="11.5"/><circle cx="514.2" cy="1022" r="11.5"/><circle cx="514.2" cy="1034" r="11.5"/><circle cx="514.2" cy="1045.5" r="11.5"/><circle cx="549.0" cy="1016" r="11.5"/><circle cx="549.0" cy="1024" r="11.5"/><circle cx="549.0" cy="1030.5" r="11.5"/><circle cx="549.0" cy="1009" r="11.5"/><circle cx="563.3" cy="1006" r="11.5"/><circle cx="563.3" cy="1014" r="11.5"/><circle cx="563.3" cy="1022" r="11.5"/><circle cx="563.3" cy="997.3" r="11.5"/><circle cx="563.3" cy="1031" r="11.5"/><circle cx="563.3" cy="1040" r="11.5"/><circle cx="597.6" cy="998.5" r="11.5"/><circle cx="597.6" cy="1008" r="11.5"/><circle cx="597.6" cy="1016" r="11.5"/><circle cx="597.6" cy="1024" r="11.5"/><circle cx="597.6" cy="1031.8" r="11.5"/><circle cx="611.3" cy="998.5" r="11.5"/><circle cx="611.3" cy="1014" r="11.5"/><circle cx="611.3" cy="1018.5" r="11.5"/><circle cx="611.3" cy="1008" r="11.5"/><circle cx="660.0" cy="992.7" r="11.5"/><circle cx="646.4" cy="1001.5" r="11.5"/></g>
<circle cx="1100" cy="927.6" r="11.5" fill="#00b24b" stroke="#0a8a3a" stroke-width="1.5"/>
<rect x="1090.25" y="932.25" width="19.5" height="19.5" fill="#3a53c3" stroke="#1d3592" stroke-width="1.5"/>
<circle cx="1276.4" cy="802.2" r="11.5" fill="#00b24b" stroke="#0a8a3a" stroke-width="1.5"/>
<rect x="1267" y="828.2" width="19.5" height="19.5" fill="#3a53c3" stroke="#1d3592" stroke-width="1.5"/>
<g font-family="'Liberation Sans',sans-serif" font-size="20.5px" fill="#111"><text x="1296" y="809.4" textLength="23" lengthAdjust="spacingAndGlyphs">R2</text><text x="1296" y="844.6" textLength="26" lengthAdjust="spacingAndGlyphs">Q2</text></g>
</svg>
</body></html>
